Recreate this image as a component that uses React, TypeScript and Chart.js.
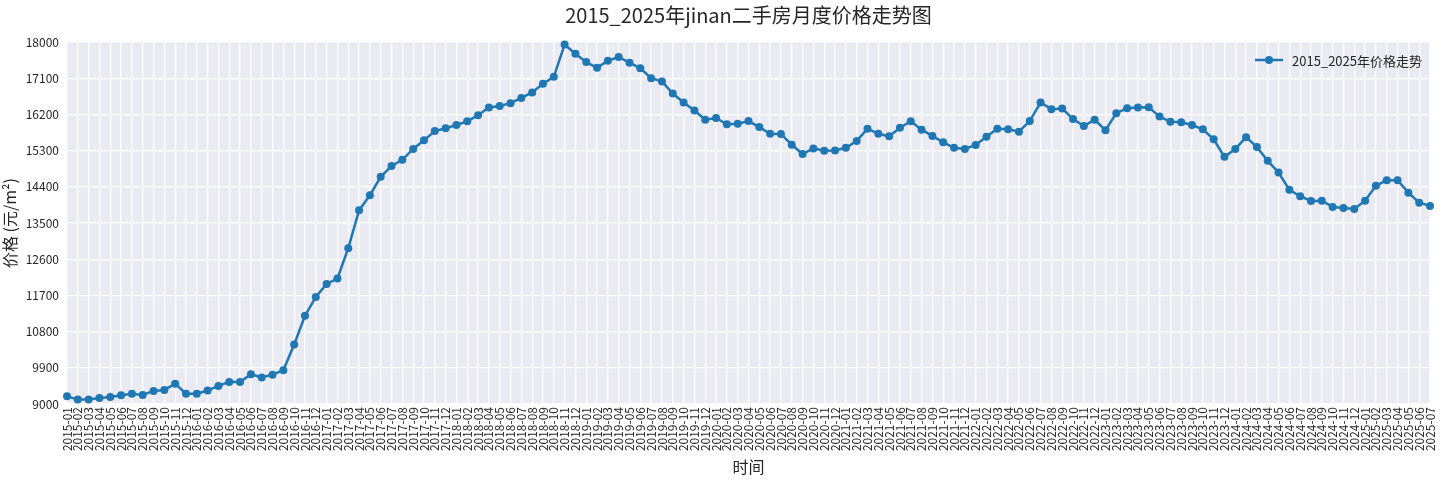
import React, { useEffect, useRef } from 'react'
import { Chart, registerables } from 'chart.js'

Chart.register(...registerables)

// months 2015-01 .. 2025-07
const months: string[] = []
for (let y = 2015; y <= 2025; y++) {
  for (let m = 1; m <= 12; m++) {
    if (y === 2025 && m > 7) break
    months.push(`${y}-${String(m).padStart(2, '0')}`)
  }
}

const prices2015 = [9190, 9110, 9110, 9150, 9175, 9215, 9255, 9225, 9325, 9350, 9505, 9255]
const prices2016 = [9255, 9335, 9450, 9550, 9545, 9740, 9660, 9730, 9840, 10480, 11195, 11660]
const prices2017 = [11985, 12120, 12875, 13815, 14190, 14650, 14920, 15070, 15340, 15555, 15785, 15855]
const prices2018 = [15935, 16030, 16180, 16370, 16410, 16480, 16610, 16745, 16960, 17135, 17935, 17710]
const prices2019 = [17500, 17360, 17535, 17625, 17485, 17345, 17100, 17020, 16720, 16495, 16295, 16070]
const prices2020 = [16110, 15955, 15970, 16035, 15885, 15720, 15715, 15445, 15215, 15355, 15295, 15305]
const prices2021 = [15370, 15540, 15845, 15720, 15655, 15870, 16030, 15820, 15665, 15505, 15370, 15340]
const prices2022 = [15440, 15645, 15845, 15830, 15770, 16035, 16495, 16330, 16345, 16085, 15910, 16070]
const prices2023 = [15805, 16230, 16355, 16370, 16380, 16145, 16020, 16005, 15935, 15830, 15580, 15145]
const prices2024 = [15340, 15635, 15390, 15045, 14755, 14325, 14165, 14050, 14055, 13900, 13875, 13850]
const prices2025 = [14055, 14425, 14565, 14565, 14255, 14005, 13925]

const prices = [
  ...prices2015, ...prices2016, ...prices2017, ...prices2018, ...prices2019, ...prices2020,
  ...prices2021, ...prices2022, ...prices2023, ...prices2024, ...prices2025,
]

const yMin = 9000
const yMax = 18000
const yStep = 900

const seriesLabel = '2015_2025年价格走势'
const titleText = '2015_2025年jinan二手房月度价格走势图'
const lineColor = '#1f77b4'
const textColor = '#262626'
const cjkFont = '"Noto Sans CJK SC", "Noto Sans", sans-serif'

const plotBackground = {
  id: 'plotBackground',
  beforeDraw(chart: any) {
    const { ctx, chartArea } = chart
    ctx.save()
    ctx.fillStyle = '#eaeaf2'
    ctx.fillRect(chartArea.left, chartArea.top, chartArea.right - chartArea.left, chartArea.bottom - chartArea.top)
    ctx.restore()
  },
}

// matplotlib-style legend sitting inside the plot, top right
const innerLegend = {
  id: 'innerLegend',
  afterDraw(chart: any) {
    const { ctx, chartArea } = chart
    const x0 = chartArea.right - 175
    const y0 = chartArea.top + 18
    ctx.save()
    ctx.strokeStyle = lineColor
    ctx.lineWidth = 2.5
    ctx.beginPath()
    ctx.moveTo(x0, y0)
    ctx.lineTo(x0 + 28, y0)
    ctx.stroke()
    ctx.fillStyle = lineColor
    ctx.beginPath()
    ctx.arc(x0 + 14, y0, 4, 0, Math.PI * 2)
    ctx.fill()
    ctx.fillStyle = textColor
    ctx.font = `13px ${cjkFont}`
    ctx.textBaseline = 'middle'
    ctx.fillText(seriesLabel, x0 + 37, y0 + 1)
    ctx.restore()
  },
}

export default function App() {
  const canvasRef = useRef<HTMLCanvasElement>(null)
  const chartRef = useRef<Chart | null>(null)

  useEffect(() => {
    document.body.style.margin = '0'
    if (!canvasRef.current) return
    if (chartRef.current) chartRef.current.destroy()

    chartRef.current = new Chart(canvasRef.current, {
      type: 'line',
      data: {
        labels: months,
        datasets: [{
          label: seriesLabel,
          data: prices,
          borderColor: lineColor,
          backgroundColor: lineColor,
          borderWidth: 2.5,
          pointRadius: 4,
          pointHoverRadius: 4,
          pointBackgroundColor: lineColor,
          pointBorderColor: lineColor,
          pointBorderWidth: 0,
          tension: 0,
          clip: false,
        }],
      },
      options: {
        animation: false,
        responsive: true,
        maintainAspectRatio: false,
        layout: { padding: { left: 0, right: 10, top: 0, bottom: 0 } },
        plugins: {
          legend: { display: false },
          tooltip: { enabled: false },
          title: {
            display: true,
            fullSize: false,
            text: titleText,
            color: textColor,
            font: { family: cjkFont, size: 20, weight: 'normal' },
            padding: { top: 3, bottom: 15 },
          },
        },
        scales: {
          x: {
            offset: false,
            grid: { color: '#ffffff', lineWidth: 1.3, drawTicks: false },
            border: { display: false },
            ticks: {
              autoSkip: false,
              minRotation: 90,
              maxRotation: 90,
              padding: 3,
              color: textColor,
              font: { family: cjkFont, size: 12 },
            },
            title: {
              display: true,
              text: '时间',
              color: textColor,
              font: { family: cjkFont, size: 16 },
              padding: { top: 0, bottom: 3 },
            },
            afterFit(scale: any) {
              scale.height = 76
              scale.paddingLeft = 0
              scale.paddingRight = 0
            },
          },
          y: {
            min: yMin,
            max: yMax,
            grid: { color: '#ffffff', lineWidth: 1.3, drawTicks: false },
            border: { display: false },
            ticks: {
              stepSize: yStep,
              padding: 8,
              color: textColor,
              font: { family: cjkFont, size: 12 },
              callback: (v: any) => String(v),
            },
            title: {
              display: true,
              text: '价格 (元/m²)',
              color: textColor,
              font: { family: cjkFont, size: 16 },
              padding: { top: 0, bottom: 0 },
            },
            afterFit(scale: any) {
              scale.width = 67
              scale.paddingTop = 0
              scale.paddingBottom = 0
            },
          },
        },
      },
      plugins: [plotBackground, innerLegend],
    })

    return () => {
      if (chartRef.current) chartRef.current.destroy()
      chartRef.current = null
    }
  }, [])

  return (
    <div style={{ width: '1440px', height: '480px', position: 'relative', background: '#fff' }}>
      <canvas ref={canvasRef}></canvas>
    </div>
  )
}
